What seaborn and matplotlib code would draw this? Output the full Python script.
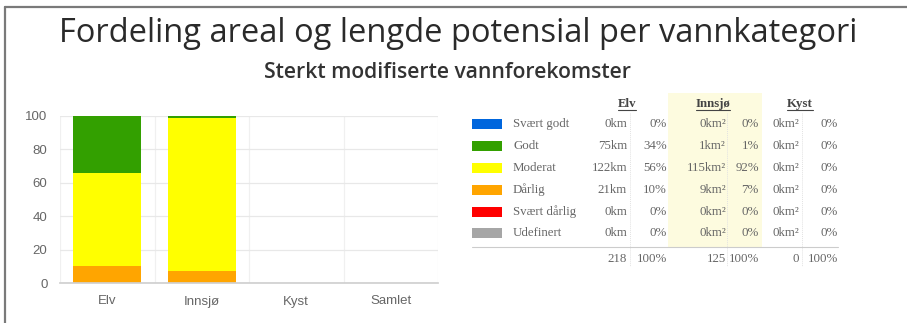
import matplotlib
matplotlib.use("Agg")
import matplotlib.pyplot as plt
from matplotlib.patches import Rectangle
from matplotlib.lines import Line2D
import numpy as np
import pandas as pd
import seaborn as sns

# ---- data ----
categories = ["Elv", "Innsjø", "Kyst", "Samlet"]
classes = ["Svært godt", "Godt", "Moderat", "Dårlig", "Svært dårlig", "Udefinert"]
class_colors = ["#0066dd", "#33a000", "#ffff00", "#ffa500", "#ff0000", "#a6a6a6"]

# percent share per class (same order as classes)
pct_elv = [0, 34, 56, 10, 0, 0]
pct_innsjo = [0, 1, 92, 7, 0, 0]
pct_kyst = [0, 0, 0, 0, 0, 0]
pct_samlet = [0, 0, 0, 0, 0, 0]

# table amounts
km_elv = [0, 75, 122, 21, 0, 0]
km2_innsjo = [0, 1, 115, 9, 0, 0]
km2_kyst = [0, 0, 0, 0, 0, 0]
total_elv = 218
total_innsjo = 125
total_kyst = 0

title = "Fordeling areal og lengde potensial per vannkategori"
subtitle = "Sterkt modifiserte vannforekomster"

# ---- figure ----
W, H = 907, 323
sns.set_theme(style="white")
plt.rcParams["font.family"] = ["Liberation Sans", "DejaVu Sans"]
fig = plt.figure(figsize=(W / 100, H / 100), dpi=100)


def fx(x):
    return x / W


def fy(y):
    return 1 - y / H


# outer frame (top and left edges)
fig.add_artist(Line2D([fx(5), 1], [fy(7), fy(7)], color="#7a7a7a", lw=1.6))
fig.add_artist(Line2D([fx(5), fx(5)], [fy(7), 0], color="#7a7a7a", lw=1.6))

fig.text(fx(458), fy(33), title, ha="center", va="center",
         fontsize=23.5, color="#2a2a2a",
         family=["Open Sans", "DejaVu Sans"])
fig.text(fx(447), fy(73), subtitle, ha="center", va="center",
         fontsize=15.2, fontweight="semibold", color="#333333",
         family=["Open Sans", "DejaVu Sans"])

# ---- stacked bar chart ----
ax = fig.add_axes([fx(60), fy(283), fx(438) - fx(60), fy(116) - fy(283)])

pct = pd.DataFrame([pct_elv, pct_innsjo, pct_kyst, pct_samlet],
                   index=categories, columns=classes)
# stack from the bottom: Udefinert, Svært dårlig, Dårlig, Moderat, Godt, Svært godt
stack_order = classes[::-1]
cum = pct[stack_order].cumsum(axis=1)
color_of = dict(zip(classes, class_colors))
# draw tallest cumulative first so lower segments sit on top
for cls in stack_order[::-1]:
    df = pd.DataFrame({"kategori": categories, "verdi": cum[cls].values})
    sns.barplot(data=df, x="kategori", y="verdi", color=color_of[cls],
                width=0.72, saturation=1, ax=ax, linewidth=0)

ax.set_ylim(0, 100)
ax.set_xlim(-0.5, 3.5)
ax.set_yticks([0, 20, 40, 60, 80, 100])
ax.set_xlabel("")
ax.set_ylabel("")
ax.set_xticks([-0.5, 0.5, 1.5, 2.5, 3.5], minor=True)
ax.grid(axis="y", color="#e8e8e8", lw=0.9)
ax.grid(axis="x", which="minor", color="#f0f0f0", lw=0.9)
ax.set_axisbelow(True)
for s in ["top", "right", "left"]:
    ax.spines[s].set_visible(False)
ax.spines["bottom"].set_color("#d0d0d0")
ax.tick_params(axis="y", labelsize=9.5, colors="#666666", length=0, pad=9)
ax.tick_params(axis="x", labelsize=9.5, colors="#666666", length=0, pad=9)

# ---- summary table ----
serif = ["Liberation Serif", "DejaVu Serif"]
tcol = "#666666"
fs = 9.3

fig.add_artist(Rectangle((fx(668), fy(247)), fx(762) - fx(668), fy(93) - fy(247),
                         facecolor="#fdfbdf", edgecolor="none", zorder=0))
for xv in [630, 727, 802]:
    fig.add_artist(Line2D([fx(xv), fx(xv)], [fy(113), fy(266)],
                          color="#e2e2e2", lw=0.7, ls=(0, (1, 1))))

headers = [("Elv", 627), ("Innsjø", 713), ("Kyst", 800)]
fig.canvas.draw()
renderer = fig.canvas.get_renderer()
for name, xc in headers:
    t = fig.text(fx(xc), fy(104), name, ha="center", va="center", fontsize=fs,
                 fontweight="bold", color="#444444", family=serif)
    bb = t.get_window_extent(renderer)
    fig.add_artist(Line2D([bb.x0 / W, bb.x1 / W], [fy(110), fy(110)],
                          color="#444444", lw=0.8))

row_y = [124, 146, 168, 190, 212, 233]

for i, cls in enumerate(classes):
    y = row_y[i]
    fig.add_artist(Rectangle((fx(472), fy(y + 5)), fx(502) - fx(472), fy(y - 5) - fy(y + 5),
                             facecolor=class_colors[i], edgecolor="none"))
    fig.text(fx(513), fy(y), cls, ha="left", va="center", fontsize=fs, color=tcol, family=serif)
    fig.text(fx(627), fy(y), f"{km_elv[i]}km", ha="right", va="center", fontsize=fs,
             color=tcol, family=serif)
    fig.text(fx(667), fy(y), f"{pct_elv[i]}%", ha="right", va="center", fontsize=fs,
             color=tcol, family=serif)
    fig.text(fx(726), fy(y), f"{km2_innsjo[i]}km²", ha="right", va="center", fontsize=fs,
             color=tcol, family=serif)
    fig.text(fx(759), fy(y), f"{pct_innsjo[i]}%", ha="right", va="center", fontsize=fs,
             color=tcol, family=serif)
    fig.text(fx(799), fy(y), f"{km2_kyst[i]}km²", ha="right", va="center", fontsize=fs,
             color=tcol, family=serif)
    fig.text(fx(838), fy(y), f"{pct_kyst[i]}%", ha="right", va="center", fontsize=fs,
             color=tcol, family=serif)

fig.add_artist(Line2D([fx(472), fx(838)], [fy(247), fy(247)], color="#cccccc", lw=0.8))
ty = 259
fig.text(fx(627), fy(ty), f"{total_elv}", ha="right", va="center", fontsize=fs, color=tcol, family=serif)
fig.text(fx(667), fy(ty), "100%", ha="right", va="center", fontsize=fs, color=tcol, family=serif)
fig.text(fx(726), fy(ty), f"{total_innsjo}", ha="right", va="center", fontsize=fs, color=tcol, family=serif)
fig.text(fx(759), fy(ty), "100%", ha="right", va="center", fontsize=fs, color=tcol, family=serif)
fig.text(fx(799), fy(ty), f"{total_kyst}", ha="right", va="center", fontsize=fs, color=tcol, family=serif)
fig.text(fx(838), fy(ty), "100%", ha="right", va="center", fontsize=fs, color=tcol, family=serif)

fig.savefig("out.png", dpi=100)
